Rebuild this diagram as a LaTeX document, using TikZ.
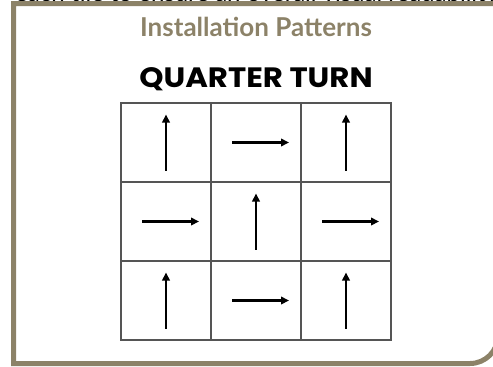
\documentclass[tikz,border=0pt]{standalone}
\usepackage{fontspec}
\setmainfont{Lato}
\newfontfamily\titlefont{Lato}
\newfontfamily\qtfont{Poppins}
\usetikzlibrary{arrows.meta}
\definecolor{frame}{HTML}{8C8268}
\definecolor{gridc}{HTML}{555555}
\tikzset{
  cellbox/.style={draw=gridc, line width=1.2pt, minimum width=90pt, minimum height=79pt, inner sep=0pt, outer sep=0pt},
  tilearrow/.style={line width=2.6pt, -{Triangle[length=8pt,width=7.5pt]}}
}
\begin{document}
\begin{tikzpicture}[x=1pt,y=-1pt]
\useasboundingbox (0,0) rectangle (493,367);
\begin{scope}
\clip (0,0) rectangle (493,367);
% cut-off text at top
\node[anchor=base west, inner sep=0pt, font=\fontsize{24}{26}\selectfont] (cut) at (15,1.5) {each tile to ensure an overall visual readability of the floor};
% frame
\draw[frame, line width=5pt] (520,3.5) -- (13.5,3.5) -- (13.5,363.5) [rounded corners=28pt] -- (498,363.5) -- (498,-20);
\end{scope}
\node[text=frame, font=\titlefont\bfseries\fontsize{26}{28}\selectfont, inner sep=0pt] (title) at (256,27) {Installation Patterns};
\node[font=\qtfont\bfseries\fontsize{28}{30}\selectfont, inner sep=0pt] (qt) at (256,79) {\scalebox{1.1}[1]{QUARTER TURN}};
% grid
\foreach \r [count=\i] in {0,1,2}{
  \foreach \c [count=\j] in {0,1,2}{
    \node[cellbox] (c\i\j) at ({166+90*\c},{142.5+79*\r}) {};
  }
}
% arrows
\foreach \n in {c11,c13,c22,c31,c33}{
  \draw[tilearrow] ([yshift=-28pt]\n.center) -- ([yshift=28pt]\n.center);
}
\foreach \n in {c12,c21,c23,c32}{
  \draw[tilearrow] ([xshift=-24pt]\n.center) -- ([xshift=33pt]\n.center);
}
\end{tikzpicture}
\end{document}
